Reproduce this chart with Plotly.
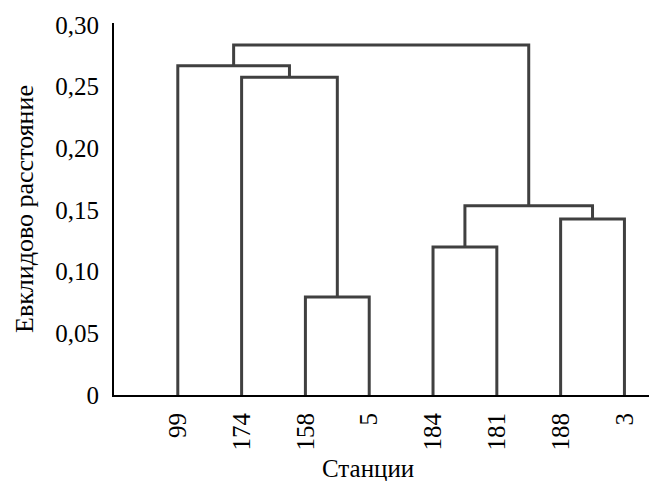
import plotly.graph_objects as go

# Leaves (stations) in dendrogram order
stations = ["99", "174", "158", "5", "184", "181", "188", "3"]

# Linkage: (left node, right node, distance). Leaves are 0..7, new clusters numbered 8, 9, ...
link_left = [2, 1, 0, 4, 6, 11, 10]
link_right = [3, 8, 9, 5, 7, 12, 13]
link_dist = [0.0795, 0.2577, 0.267, 0.120, 0.1427, 0.1534, 0.2838]

y_tickvals = [0, 0.05, 0.10, 0.15, 0.20, 0.25, 0.30]
y_ticktext = ["0", "0,05", "0,10", "0,15", "0,20", "0,25", "0,30"]

FONT = "'Liberation Serif', 'Times New Roman', Times, serif"
LINE_COLOR = "#404040"

# node positions: leaves at 1..n, height 0
pos_x = {i: i + 1 for i in range(len(stations))}
pos_y = {i: 0.0 for i in range(len(stations))}

xs, ys = [], []
n = len(stations)
for k, (a, b, d) in enumerate(zip(link_left, link_right, link_dist)):
    xa, ya = pos_x[a], pos_y[a]
    xb, yb = pos_x[b], pos_y[b]
    xs += [xa, xa, xb, xb, None]
    ys += [ya, d, d, yb, None]
    pos_x[n + k] = (xa + xb) / 2
    pos_y[n + k] = d

fig = go.Figure()
fig.add_trace(go.Scatter(
    x=xs, y=ys, mode="lines",
    line=dict(color=LINE_COLOR, width=3),
    hoverinfo="skip", showlegend=False,
))

fig.update_layout(
    width=649, height=481,
    margin=dict(l=114, r=0, t=23, b=86),
    paper_bgcolor="white", plot_bgcolor="white",
    font=dict(family=FONT, size=25, color="black"),
    showlegend=False,
    xaxis=dict(
        range=[0, 8.385],
        tickvals=list(range(1, n + 1)), ticktext=stations,
        tickangle=-90, ticks="", showgrid=False, zeroline=False,
        showline=True, linecolor="black", linewidth=2,
        tickfont=dict(family=FONT, size=25, color="black"),
        ticklabelstandoff=6,
        fixedrange=True,
    ),
    yaxis=dict(
        range=[0, 0.3016],
        tickvals=y_tickvals, ticktext=y_ticktext,
        ticks="", showgrid=False, zeroline=False,
        showline=True, linecolor="black", linewidth=2,
        tickfont=dict(family=FONT, size=25, color="black"),
        ticklabelstandoff=8,
        fixedrange=True,
    ),
    annotations=[
        dict(
            text="Станции", xref="paper", yref="paper",
            x=0.475, y=0, yshift=-73, xanchor="center", yanchor="middle",
            showarrow=False, font=dict(family=FONT, size=25, color="black"),
        ),
        dict(
            text="Евклидово расстояние", xref="paper", yref="paper",
            x=0, y=0.5, xshift=-90, xanchor="center", yanchor="middle",
            textangle=-90, showarrow=False,
            font=dict(family=FONT, size=26, color="black"),
        ),
    ],
)

fig.write_html(
    "out.html",
    config={"displayModeBar": False},
    post_script="document.body.style.margin='0';document.body.style.overflow='hidden';",
)
